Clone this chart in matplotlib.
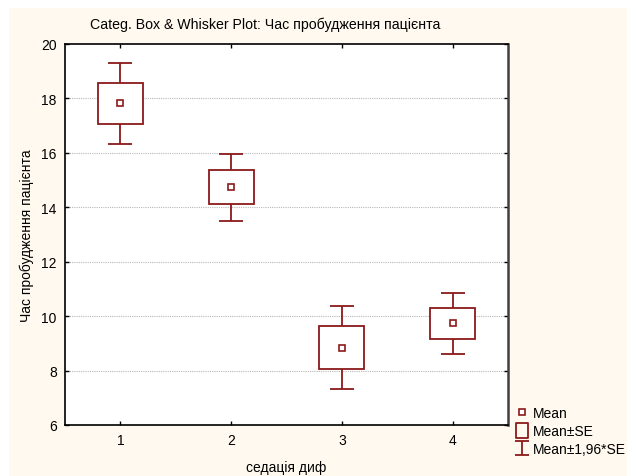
import matplotlib
matplotlib.use("Agg")
import matplotlib.pyplot as plt
from matplotlib.lines import Line2D
from matplotlib.patches import Rectangle
from matplotlib.path import Path

plt.rcParams["font.family"] = ["Liberation Sans", "DejaVu Sans"]
plt.rcParams["font.size"] = 10

# data
groups = [1, 2, 3, 4]
means = [17.82, 14.73, 8.84, 9.73]
se = [0.755, 0.625, 0.78, 0.57]
ci_factor = 1.96

title = "Categ. Box & Whisker Plot: Час пробудження пацієнта"
xlabel = "седація диф"
ylabel = "Час пробудження пацієнта"
yticks = [6, 8, 10, 12, 14, 16, 18, 20]

RED = "#8B1A1A"
CREAM = "#FFF9EF"

fig = plt.figure(figsize=(6.27, 4.77), dpi=100, facecolor="white")
fig.patches.append(Rectangle((9 / 627, 0), 1, 1 - 9 / 477, transform=fig.transFigure,
                             facecolor=CREAM, edgecolor="none", zorder=-10))
ax = fig.add_axes([65 / 627, 1 - 426 / 477, 443 / 627, 381 / 477])
ax.set_facecolor("white")

# whiskers (mean +- 1.96*SE)
ax.errorbar(groups, means, yerr=[ci_factor * s for s in se], fmt="none",
            ecolor=RED, elinewidth=1.3, capsize=8.3, capthick=1.3, zorder=2)
# boxes (mean +- SE)
ax.bar(groups, [2 * s for s in se], bottom=[m - s for m, s in zip(means, se)],
       width=0.405, facecolor="white", edgecolor=RED, linewidth=1.3, zorder=3)
# means
ax.plot(groups, means, ls="none", marker="s", ms=5, mfc="white", mec=RED,
        mew=1.2, zorder=4)

ax.set_xlim(0.5, 4.5)
ax.set_ylim(6, 20)
ax.set_xticks(groups)
ax.set_yticks(yticks)
ax.tick_params(direction="in", length=3, width=1, top=True, right=True,
               labelsize=10, pad=6)
for y in yticks[1:-1]:
    ax.axhline(y, color="#B8B8B8", lw=0.8, ls=(0, (1, 1)), zorder=0)
for sp in ax.spines.values():
    sp.set_linewidth(1.2)
ax.spines["right"].set_color("#404040")
ax.spines["right"].set_linewidth(1.8)

ax.set_xlabel(xlabel, fontsize=10, labelpad=9)
ax.set_ylabel(ylabel, fontsize=10, labelpad=5)
fig.text(265 / 627, 1 - 25 / 477, title, ha="center", va="center", fontsize=10.2)

# legend
whisker = Path([(-0.47, 0.5), (0.47, 0.5), (0, 0.5), (0, -0.5), (-0.47, -0.5), (0.47, -0.5)],
               [Path.MOVETO, Path.LINETO, Path.MOVETO, Path.LINETO, Path.MOVETO, Path.LINETO])
box = Path([(-0.42, -0.5), (0.42, -0.5), (0.42, 0.5), (-0.42, 0.5), (-0.42, -0.5)],
           [Path.MOVETO, Path.LINETO, Path.LINETO, Path.LINETO, Path.CLOSEPOLY])
handles = [
    Line2D([], [], ls="none", marker="s", ms=5, mfc="white", mec=RED, mew=1.2),
    Line2D([], [], ls="none", marker=box, ms=10.8, mfc="none", mec=RED, mew=1.3),
    Line2D([], [], ls="none", marker=whisker, ms=10, mfc="none", mec=RED, mew=1.3),
]
fig.legend(handles, ["Mean", "Mean±SE", "Mean±1,96*SE"], loc="upper left",
           bbox_to_anchor=(515 / 627, 1 - 407 / 477), frameon=False,
           fontsize=10, handlelength=1.0, handletextpad=0.3, labelspacing=0.3,
           borderaxespad=0, borderpad=0)

fig.savefig("out.png", dpi=100, facecolor=fig.get_facecolor())
